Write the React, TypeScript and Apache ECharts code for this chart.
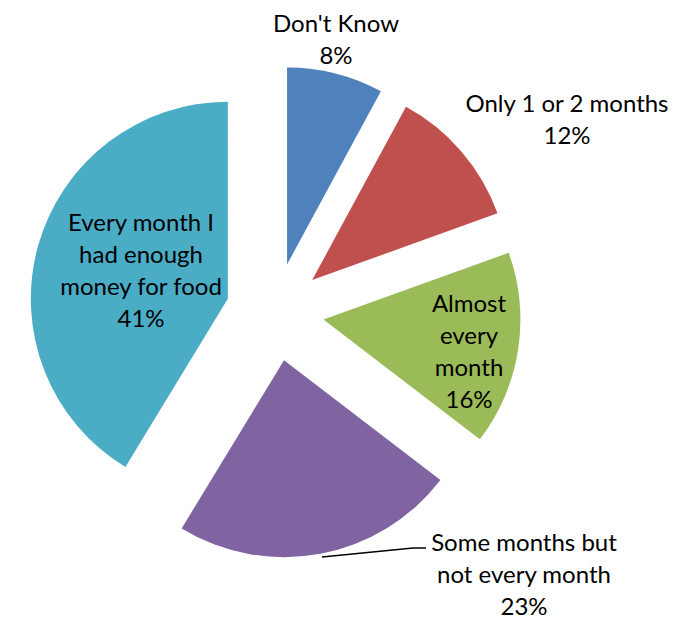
import React, { useEffect, useRef } from 'react';
import * as echarts from 'echarts';

// ---- data ----
const categories = [
  "Don't Know",
  'Only 1 or 2 months',
  'Almost every month',
  'Some months but not every month',
  'Every month I had enough money for food',
];
const labelTexts = [
  "Don't Know",
  'Only 1 or 2 months',
  'Almost\nevery\nmonth',
  'Some months but\nnot every month',
  'Every month I\nhad enough\nmoney for food',
];
const values = [7.9, 11.6, 15.9, 23.3, 41.3];
const colors = ['#4F81BD', '#C0504D', '#9BBB59', '#8064A2', '#4BACC6'];

// ---- layout ----
const CX = 275;
const CY = 312;
const RADIUS = 197;
const EXPLODE = 49;
const labelAnchors = [
  [336, 38],
  [567, 118],
  [469, 350],
  [524, 573],
  [141, 269],
];
const leaderLinePoints = [
  [322, 557],
  [413, 548],
  [426, 548],
];

export default function App() {
  const ref = useRef<HTMLDivElement>(null);
  useEffect(() => {
    if (!ref.current) return;
    const chart = echarts.init(ref.current, undefined, { renderer: 'svg' });
    const total = values.reduce((a, b) => a + b, 0);
    let cum = 0;
    const series = values.map((v, i) => {
      const startDeg = (cum / total) * 360;
      const midDeg = ((cum + v / 2) / total) * 360;
      cum += v;
      const rad = (midDeg * Math.PI) / 180;
      const cx = CX + Math.sin(rad) * EXPLODE;
      const cy = CY - Math.cos(rad) * EXPLODE;
      return {
        type: 'pie',
        name: categories[i],
        center: [cx, cy],
        radius: RADIUS,
        startAngle: 90 - startDeg,
        clockwise: true,
        silent: true,
        avoidLabelOverlap: false,
        emphasis: { disabled: true },
        itemStyle: { borderWidth: 0 },
        label: {
          show: true,
          position: 'outside',
          formatter: () => labelTexts[i] + '\n' + Math.round((v / total) * 100) + '%',
          color: '#000000',
          fontFamily: 'Lato',
          fontSize: 24,
          lineHeight: 32,
          width: 300,
          overflow: 'none',
          align: 'center',
        },
        labelLine:
          i === 3
            ? { show: true, length: 10, length2: 10, lineStyle: { color: '#000000', width: 1.5 } }
            : { show: false },
        labelLayout: (params: any) => {
          if (params.dataIndex !== 0) return {};
          const out: any = {
            x: labelAnchors[i][0],
            y: labelAnchors[i][1],
            align: 'center',
            verticalAlign: 'middle',
          };
          if (i === 3) out.labelLinePoints = leaderLinePoints;
          return out;
        },
        data: [
          { value: v, name: categories[i], itemStyle: { color: colors[i] } },
          {
            value: total - v,
            name: '',
            itemStyle: { color: 'rgba(0,0,0,0)' },
            label: { show: false },
            labelLine: { show: false },
          },
        ],
      };
    });
    chart.setOption({ animation: false, backgroundColor: '#ffffff', series });
    return () => chart.dispose();
  }, []);
  return (
    <div
      ref={ref}
      style={{ position: 'absolute', left: 0, top: 0, width: 683, height: 618 }}
    />
  );
}
